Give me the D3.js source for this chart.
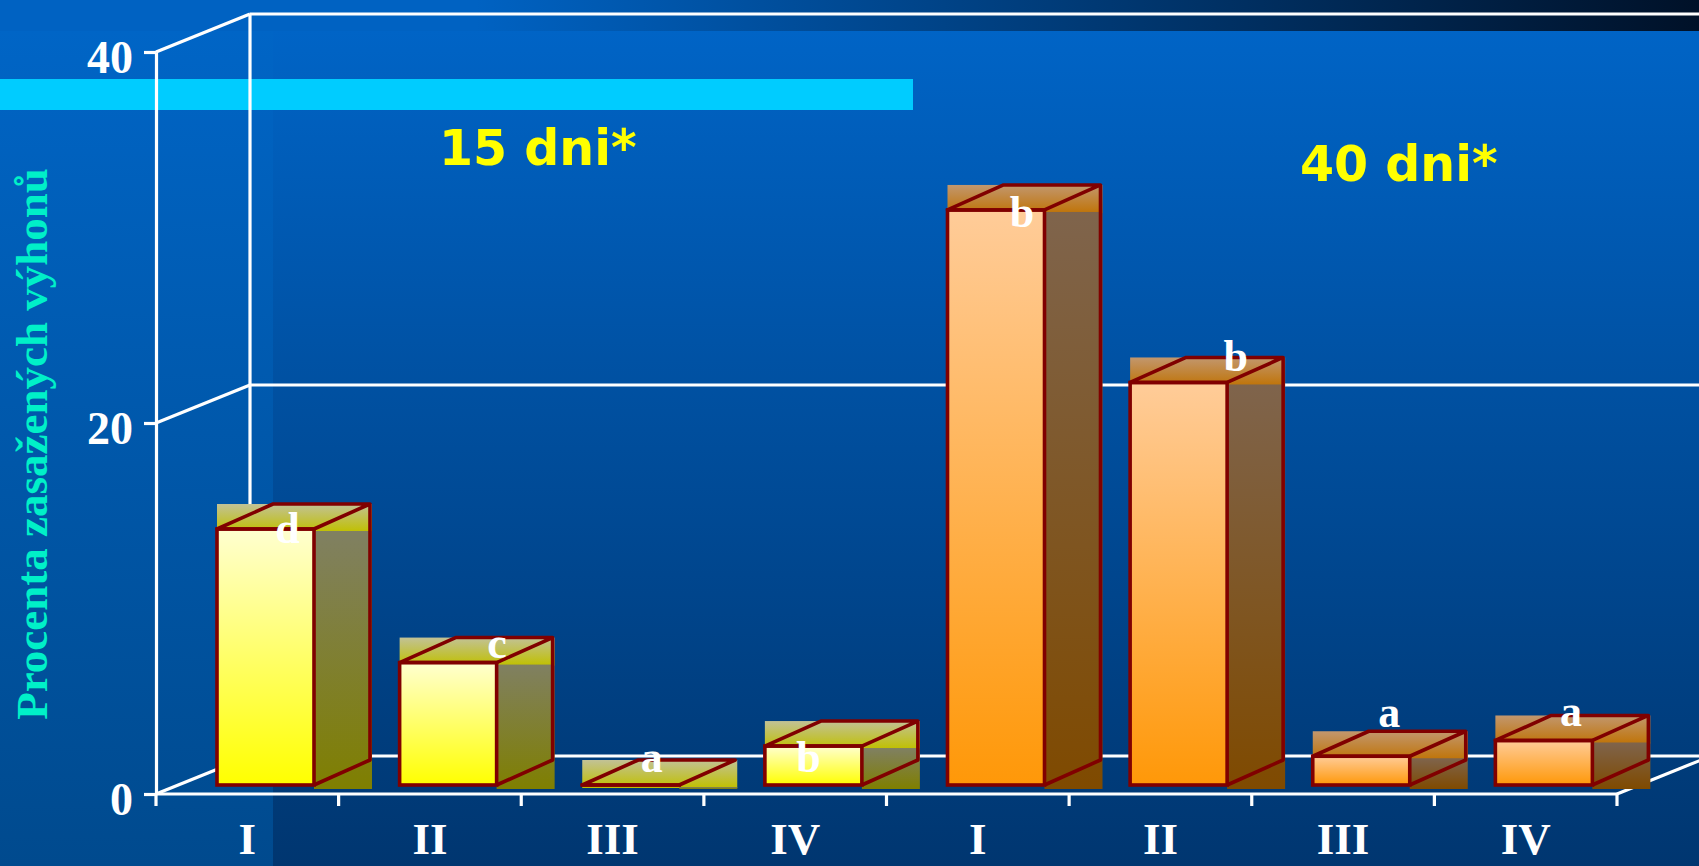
<!DOCTYPE html>
<html>
<head>
<meta charset="utf-8">
<script src="https://cdn.jsdelivr.net/npm/d3@7"></script>
<style>
  body { margin: 0; background: #0060c0; }
  svg { display: block; }
</style>
</head>
<body>
<div id="chart"></div>
<script>
var width = 1699,
    height = 866;

// data
var categories = ["I", "II", "III", "IV", "I", "II", "III", "IV"];
var groupTitles = ["15 dni*", "40 dni*"];
var values15 = [13.8, 6.6, 0, 2.1];
var values40 = [31.0, 21.7, 1.55, 2.4];
var letters15 = ["d", "c", "a", "b"];
var letters40 = ["b", "b", "a", "a"];
var yTicks = [0, 20, 40];

// little nudges of the letters, as placed by hand in the original
var letterShift = [[-6, 14], [21, -5], [-7, -13], [-33, 26], [-2, 17], [29, -11], [0, -29], [-1, -14]];

var bars = [];
values15.forEach(function(v, i) { bars.push({ i: i, g: 0, value: v, letter: letters15[i] }); });
values40.forEach(function(v, i) { bars.push({ i: i + 4, g: 1, value: v, letter: letters40[i] }); });

var depthX = 94, depthY = 38;        // wall depth
var barW = 97, barDX = 56, barDY = 25; // bar size
var lineW = 3.2;

var svg = d3.select("#chart")
    .append("svg")
    .attr("width", width)
    .attr("height", height);

var defs = svg.append("defs");

function vGrad(id, c1, c2) {
  var g = defs.append("linearGradient").attr("id", id)
      .attr("x1", 0).attr("y1", 0).attr("x2", 0).attr("y2", 1);
  g.append("stop").attr("offset", 0).attr("stop-color", c1);
  g.append("stop").attr("offset", 1).attr("stop-color", c2);
}
vGrad("bg", "#0066c8", "#004a8e");
vGrad("plotbg", "#0064c6", "#003670");
vGrad("front0", "#ffffd0", "#ffff00");
vGrad("side0", "#808062", "#7f7f00");
vGrad("top0", "#c2c296", "#c0c000");
vGrad("front1", "#ffcc99", "#ff9808");
vGrad("side1", "#7f644c", "#7f4a00");
vGrad("top1", "#c2976e", "#c07408");

var band = defs.append("linearGradient").attr("id", "band")
    .attr("x1", 0).attr("y1", 0).attr("x2", 1).attr("y2", 0);
band.append("stop").attr("offset", 0.28).attr("stop-color", "#0062c2");
band.append("stop").attr("offset", 1).attr("stop-color", "#001128");

// background pieces of the slide
svg.append("rect").attr("width", width).attr("height", height).attr("fill", "url(#bg)");
svg.append("rect").attr("x", 273).attr("y", 31).attr("width", width - 273).attr("height", height - 31)
    .attr("fill", "url(#plotbg)");
svg.append("rect").attr("width", width).attr("height", 31).attr("fill", "url(#band)");
svg.append("rect").attr("x", 0).attr("y", 79).attr("width", 913).attr("height", 31).attr("fill", "#00ccff");

var x = d3.scaleBand()
    .domain(d3.range(categories.length))
    .range([156, 1617]);

var y = d3.scaleLinear()
    .domain([0, 40])
    .range([794, 52]);

var x0 = x.range()[0], x1 = x.range()[1], y0 = y(0);

// back wall and floor
var walls = svg.append("g")
    .attr("stroke", "#fff")
    .attr("stroke-width", lineW)
    .attr("fill", "none");

walls.append("line")
    .attr("x1", x0 + depthX).attr("x2", x0 + depthX)
    .attr("y1", y(40) - depthY).attr("y2", y0 - depthY);

walls.selectAll(".grid")
    .data(yTicks)
    .enter().append("line")
    .attr("class", "grid")
    .attr("x1", x0 + depthX).attr("x2", width + 20)
    .attr("y1", function(d) { return y(d) - depthY; })
    .attr("y2", function(d) { return y(d) - depthY; });

walls.selectAll(".diag")
    .data(yTicks)
    .enter().append("line")
    .attr("class", "diag")
    .attr("x1", x0).attr("x2", x0 + depthX)
    .attr("y1", function(d) { return y(d); })
    .attr("y2", function(d) { return y(d) - depthY; });

walls.append("line")
    .attr("x1", x1).attr("y1", y0)
    .attr("x2", x1 + depthX).attr("y2", y0 - depthY);

// y axis
var yAxis = svg.append("g")
    .attr("transform", "translate(" + x0 + ",0)")
    .call(d3.axisLeft(y).tickValues(yTicks).tickSize(12).tickSizeOuter(0).tickPadding(11));

yAxis.selectAll("path, line").attr("stroke", "#fff").attr("stroke-width", lineW);
yAxis.selectAll("text")
    .attr("fill", "#fff")
    .attr("dy", "0.45em")
    .style("font", "bold 46px 'Liberation Serif', 'Times New Roman', serif");

// x axis: line, ticks at band edges, labels at band centres
svg.append("line")
    .attr("x1", x0).attr("x2", x1).attr("y1", y0).attr("y2", y0)
    .attr("stroke", "#fff").attr("stroke-width", lineW);

var edges = d3.range(categories.length).map(function(i) { return x(i); }).concat([x1]);
svg.selectAll(".xtick")
    .data(edges)
    .enter().append("line")
    .attr("class", "xtick")
    .attr("x1", function(d) { return d; }).attr("x2", function(d) { return d; })
    .attr("y1", y0).attr("y2", y0 + 12)
    .attr("stroke", "#fff").attr("stroke-width", lineW);

var xAxis = svg.append("g")
    .attr("transform", "translate(0," + y0 + ")")
    .call(d3.axisBottom(x).tickSize(0).tickPadding(28).tickFormat(function(i) { return categories[i]; }));
xAxis.select(".domain").remove();
xAxis.selectAll("text")
    .attr("fill", "#fff")
    .style("font", "bold 45px 'Liberation Serif', 'Times New Roman', serif");

// bars
var barG = svg.selectAll(".bar")
    .data(bars)
    .enter().append("g")
    .attr("class", "bar");

function geo(d) {
  var xl = x(d.i) + 61,
      yb = y0 - 9,
      yt = yb - (y0 - y(d.value));
  return { xl: xl, xr: xl + barW, yb: yb, yt: yt };
}

barG.append("rect")
    .attr("x", function(d) { return geo(d).xl; })
    .attr("y", function(d) { return geo(d).yt - barDY; })
    .attr("width", barW + barDX + 2)
    .attr("height", barDY + 3)
    .attr("fill", function(d) { return "url(#top" + d.g + ")"; });

barG.append("rect")
    .attr("x", function(d) { return geo(d).xr; })
    .attr("y", function(d) { return geo(d).yt + 2; })
    .attr("width", barDX + 2)
    .attr("height", function(d) { var g = geo(d); return g.yb - g.yt + 2; })
    .attr("fill", function(d) { return "url(#side" + d.g + ")"; });

barG.append("rect")
    .attr("x", function(d) { return geo(d).xl; })
    .attr("y", function(d) { return geo(d).yt; })
    .attr("width", barW)
    .attr("height", function(d) { var g = geo(d); return Math.max(0.01, g.yb - g.yt); })
    .attr("fill", function(d) { return "url(#front" + d.g + ")"; })
    .attr("stroke", "#800000")
    .attr("stroke-width", 3.6);

barG.append("path")
    .attr("d", function(d) {
      var g = geo(d);
      return "M" + g.xl + "," + g.yt +
        "L" + (g.xl + barDX) + "," + (g.yt - barDY) +
        "L" + (g.xr + barDX) + "," + (g.yt - barDY) +
        "L" + g.xr + "," + g.yt + "Z" +
        "M" + (g.xr + barDX) + "," + (g.yt - barDY) +
        "L" + (g.xr + barDX) + "," + (g.yb - barDY) +
        "L" + g.xr + "," + g.yb;
    })
    .attr("fill", "none")
    .attr("stroke", "#800000")
    .attr("stroke-width", 3.6)
    .attr("stroke-linejoin", "round");

barG.append("text")
    .attr("x", function(d) { return geo(d).xl + (barW + barDX) / 2 + letterShift[d.i][0]; })
    .attr("y", function(d) { return geo(d).yt + letterShift[d.i][1]; })
    .attr("text-anchor", "middle")
    .attr("fill", "#fff")
    .style("font", "bold 44px 'Liberation Serif', 'Times New Roman', serif")
    .text(function(d) { return d.letter; });

// group titles
svg.selectAll(".group")
    .data(groupTitles)
    .enter().append("text")
    .attr("class", "group")
    .attr("x", function(d, i) { return i === 0 ? 439 : 1300; })
    .attr("y", function(d, i) { return i === 0 ? 165 : 181; })
    .attr("fill", "#ffff00")
    .style("font", "bold 49px 'DejaVu Sans', Verdana, sans-serif")
    .text(function(d) { return d; });

// y title
svg.append("text")
    .attr("transform", "translate(47,444) rotate(-90)")
    .attr("text-anchor", "middle")
    .attr("fill", "#00f0c8")
    .style("font", "bold 45px 'Liberation Serif', 'Times New Roman', serif")
    .text("Procenta zasažených výhonů");
</script>
</body>
</html>
